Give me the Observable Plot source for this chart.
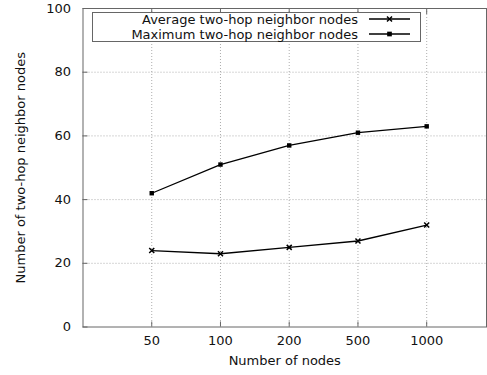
<!DOCTYPE html>
<html>
<head>
<meta charset="utf-8">
<script src="https://cdn.jsdelivr.net/npm/d3@7"></script>
<script src="https://cdn.jsdelivr.net/npm/@observablehq/plot@0.6"></script>
<style>
  html, body { margin: 0; padding: 0; background: #fff; }
  #wrap { position: relative; width: 487px; height: 375px; font-family: "DejaVu Sans", sans-serif; }
  #legend { position: absolute; left: 91.5px; top: 12px; }
</style>
</head>
<body>
<div id="wrap"></div>
<script>
const nodeLabels = ["50", "100", "200", "500", "1000"];
const avgNeighbors = [24, 23, 25, 27, 32];
const maxNeighbors = [42, 51, 57, 61, 63];
const seriesNames = ["Average two-hop neighbor nodes", "Maximum two-hop neighbor nodes"];
const yTicks = [0, 20, 40, 60, 80, 100];

const avgData = nodeLabels.map((n, i) => ({pos: i + 1, v: avgNeighbors[i]}));
const maxData = nodeLabels.map((n, i) => ({pos: i + 1, v: maxNeighbors[i]}));
const xTicks = nodeLabels.map((n, i) => i + 1);
const fmtX = d => nodeLabels[d - 1] ?? "";

const gridStyle = {stroke: "#999", strokeOpacity: 0.8, strokeDasharray: "1,2"};
const FS = 13;

const chart = Plot.plot({
  width: 487,
  height: 375,
  marginLeft: 82.5,
  marginRight: 1,
  marginTop: 8,
  marginBottom: 48.5,
  style: {fontFamily: "DejaVu Sans, sans-serif", fontSize: FS + "px", color: "#111", background: "#fff"},
  x: {type: "linear", domain: [0, 5.87]},
  y: {domain: [0, 100]},
  marks: [
    Plot.gridX({ticks: xTicks, ...gridStyle}),
    Plot.gridY({ticks: yTicks.filter(t => t > 0 && t < 100), ...gridStyle}),
    Plot.axisX({ticks: xTicks, tickSize: 0, tickPadding: 9, tickFormat: fmtX, label: null, fill: "#111", fontSize: FS}),
    Plot.axisX({ticks: xTicks, tickSize: -5, tickFormat: () => "", label: null, stroke: "#666"}),
    Plot.axisX({anchor: "top", ticks: xTicks, tickSize: -5, tickFormat: () => "", label: null, stroke: "#666"}),
    Plot.axisY({ticks: yTicks, tickSize: 0, tickPadding: 12, label: null, fill: "#111", fontSize: FS}),
    Plot.axisY({ticks: yTicks, tickSize: -5, tickFormat: () => "", label: null, stroke: "#666"}),
    Plot.frame({stroke: "#666", strokeWidth: 1}),
    Plot.line(avgData, {x: "pos", y: "v", stroke: "#000", strokeWidth: 1.3}),
    Plot.dot(avgData, {x: "pos", y: "v", symbol: "times", r: 2.4, stroke: "#000", strokeWidth: 1.5}),
    Plot.line(maxData, {x: "pos", y: "v", stroke: "#000", strokeWidth: 1.3}),
    Plot.dot(maxData, {x: "pos", y: "v", symbol: "square", r: 2.5, fill: "#000", stroke: "none"}),
    Plot.text(["Number of nodes"], {frameAnchor: "bottom", dy: 38, fontSize: FS, fill: "#111"}),
    Plot.text(["Number of two-hop neighbor nodes"], {frameAnchor: "left", textAnchor: "middle", dx: -62, rotate: -90, fontSize: FS, fill: "#111"})
  ]
});

const wrap = document.getElementById("wrap");
wrap.appendChild(chart);

// Legend (gnuplot-style box inside the plot)
const lw = 328, lh = 29;
const leg = d3.select(wrap).append("svg").attr("id", "legend")
  .attr("width", lw + 1).attr("height", lh + 1)
  .style("font-family", "DejaVu Sans, sans-serif").style("font-size", FS + "px");
leg.append("rect").attr("x", 0.5).attr("y", 0.5).attr("width", lw).attr("height", lh)
  .attr("fill", "#fff").attr("stroke", "#666");
const symbols = [d3.symbolTimes, d3.symbolSquare];
seriesNames.forEach((name, i) => {
  const y = 7 + i * 15;
  leg.append("text").attr("x", 266).attr("y", y).attr("dy", "0.35em")
    .attr("text-anchor", "end").attr("fill", "#111").text(name);
  leg.append("line").attr("x1", 277).attr("x2", 318).attr("y1", y).attr("y2", y)
    .attr("stroke", "#000").attr("stroke-width", 1.3);
  const sym = d3.symbol(symbols[i], i === 0 ? 18 : 22)();
  leg.append("path").attr("d", sym).attr("transform", `translate(297.5,${y})`)
    .attr("fill", i === 0 ? "none" : "#000").attr("stroke", i === 0 ? "#000" : "none")
    .attr("stroke-width", 1.5);
});
</script>
</body>
</html>
